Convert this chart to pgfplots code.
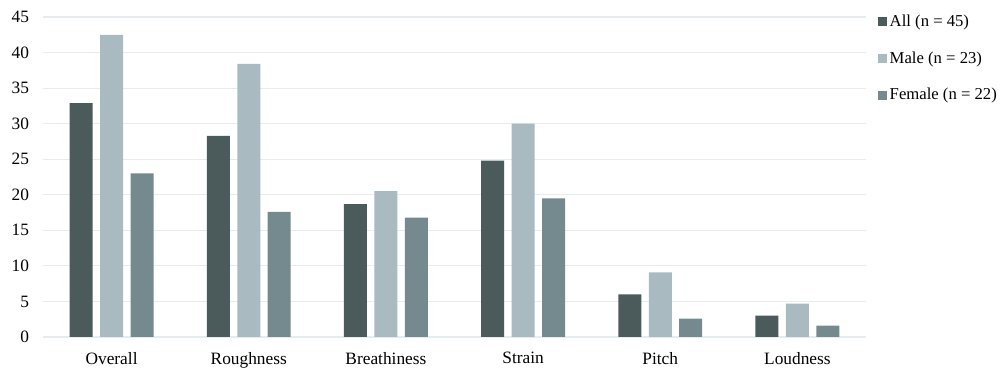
\documentclass[border=0pt]{standalone}
\usepackage{fontspec}
\setmainfont{Liberation Serif}
\usepackage{pgfplots}
\pgfplotsset{compat=1.18}
\definecolor{cAll}{HTML}{4B5A5B}
\definecolor{cMale}{HTML}{A9BAC1}
\definecolor{cFemale}{HTML}{748A8E}
\definecolor{cGrid}{HTML}{E6ECEE}
\begin{document}
\begin{tikzpicture}[x=0.75pt,y=0.75pt]
\useasboundingbox (0,0) rectangle (1000,378);
\begin{axis}[
  at={(32.25pt,30.75pt)}, anchor=south west,
  scale only axis, width=617.25pt, height=240pt,
  ybar=5.6pt, bar width=17.25pt,
  xmin=-0.5, xmax=5.5, ymin=0, ymax=45,
  xtick={0,1,2,3,4,5},
  xticklabels={Overall,Roughness,Breathiness,Strain,Pitch,Loudness},
  ytick={0,5,...,45},
  /pgf/number format/assume math mode=true,
  ymajorgrids, grid style={cGrid, line width=0.9pt},
  axis line style={draw=none},
  major tick length=0pt,
  tick label style={font=\fontsize{13}{15}\selectfont},
  yticklabel style={xshift=-7pt},
  xticklabel style={yshift=-8pt},
  legend style={draw=none, at={(1,1)}, anchor=north west, xshift=9pt, yshift=3.5pt,
    inner sep=0pt, outer sep=0pt,
    font=\fontsize{12.5}{15}\selectfont, row sep=13.3pt,
    legend cell align=left},
  legend image code/.code={\fill[#1] (0pt,-3.4pt) rectangle (6.8pt,3.4pt);},
]
\addplot[fill=cAll, draw=none] coordinates {(0,32.9) (1,28.3) (2,18.7) (3,24.8) (4,6.0) (5,3.0)};
\addplot[fill=cMale, draw=none] coordinates {(0,42.5) (1,38.4) (2,20.5) (3,30.0) (4,9.1) (5,4.7)};
\addplot[fill=cFemale, draw=none] coordinates {(0,23.0) (1,17.6) (2,16.8) (3,19.5) (4,2.6) (5,1.6)};
\legend{All (n = 45), Male (n = 23), Female (n = 22)}
\end{axis}
\end{tikzpicture}
\end{document}
